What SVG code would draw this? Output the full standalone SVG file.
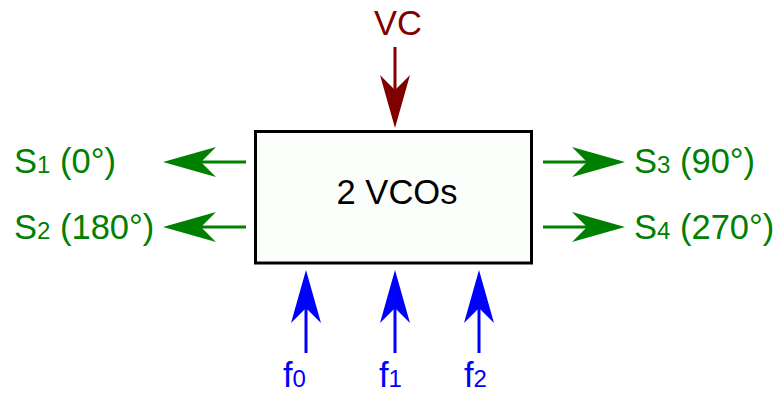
<svg xmlns="http://www.w3.org/2000/svg" width="779" height="393" viewBox="0 0 779 393">
<style>
text{font-family:"Liberation Sans",Arial,sans-serif;font-size:34.5px}
.g{fill:#008000}
.b{fill:#0000ff}
.r{fill:#800000}
.k{fill:#000}
.sub{font-size:24px}
.lg{stroke:#008000;stroke-width:3;fill:none;marker-end:url(#mg)}
.lb{stroke:#0000ff;stroke-width:3;fill:none;marker-end:url(#mb)}
.lr{stroke:#800000;stroke-width:3;fill:none;marker-end:url(#mr)}
</style>
<defs>
<marker id="mg" viewBox="0 -16 54 32" markerWidth="54" markerHeight="32" refX="20" refY="0" orient="auto" markerUnits="userSpaceOnUse"><path d="M53,0 L0,-15 L15,0 L0,15 Z" fill="#008000"/></marker>
<marker id="mb" viewBox="0 -16 54 32" markerWidth="54" markerHeight="32" refX="20" refY="0" orient="auto" markerUnits="userSpaceOnUse"><path d="M53,0 L0,-15 L15,0 L0,15 Z" fill="#0000ff"/></marker>
<marker id="mr" viewBox="0 -16 54 32" markerWidth="54" markerHeight="32" refX="20" refY="0" orient="auto" markerUnits="userSpaceOnUse"><path d="M53,0 L0,-15 L15,0 L0,15 Z" fill="#800000"/></marker>
</defs>
<rect width="779" height="393" fill="#fff"/>
<g id="vco">
<rect x="255.5" y="131.5" width="276" height="131.5" fill="#fcfefc" stroke="#000" stroke-width="3"/>
<text class="k" x="397" y="204" text-anchor="middle">2 VCOs</text>
</g>
<g id="vc"><text class="r" x="398" y="35" text-anchor="middle">VC</text></g>
<g id="s1"><text class="g" x="14" y="173">S<tspan class="sub">1</tspan> (0°)</text></g>
<g id="s2"><text class="g" x="14" y="239">S<tspan class="sub">2</tspan> (180°)</text></g>
<g id="s3"><text class="g" x="634" y="173">S<tspan class="sub">3</tspan> (90°)</text></g>
<g id="s4"><text class="g" x="634" y="239">S<tspan class="sub">4</tspan> (270°)</text></g>
<g id="f0"><text class="b" x="283" y="387">f<tspan class="sub">0</tspan></text></g>
<g id="f1"><text class="b" x="379" y="387">f<tspan class="sub">1</tspan></text></g>
<g id="f2"><text class="b" x="464" y="387">f<tspan class="sub">2</tspan></text></g>
<g id="connectors">
<line class="lr" x1="395" y1="47" x2="395" y2="95"/>
<line class="lg" x1="246" y1="162" x2="196" y2="162"/>
<line class="lg" x1="246" y1="227" x2="196" y2="227"/>
<line class="lg" x1="543" y1="162" x2="592" y2="162"/>
<line class="lg" x1="543" y1="227" x2="592" y2="227"/>
<line class="lb" x1="306" y1="353" x2="306" y2="303"/>
<line class="lb" x1="395" y1="353" x2="395" y2="303"/>
<line class="lb" x1="479" y1="353" x2="479" y2="303"/>
</g>
</svg>
